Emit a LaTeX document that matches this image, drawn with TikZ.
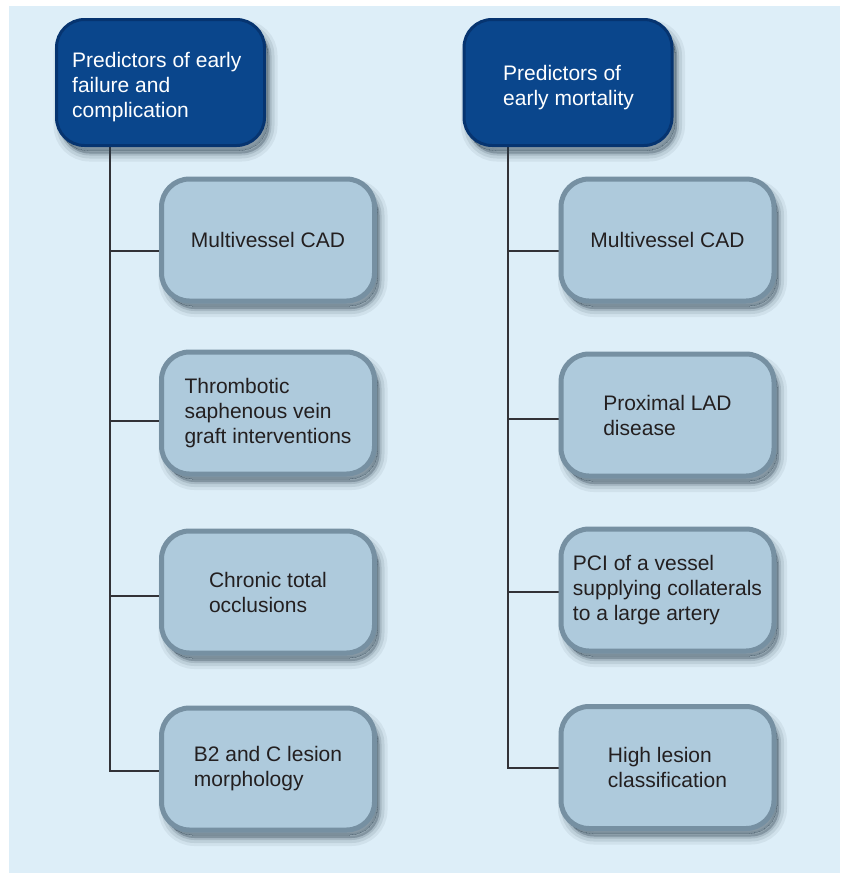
\documentclass[tikz,border=0pt]{standalone}
\usepackage{fontspec}
\setmainfont{Liberation Sans}
\pgfdeclarelayer{background}
\pgfsetlayers{background,main}
\definecolor{panel}{RGB}{221,238,248}
\definecolor{topfill}{RGB}{10,70,140}
\definecolor{topedge}{RGB}{6,52,112}
\definecolor{cfill}{RGB}{174,202,220}
\definecolor{cedge}{RGB}{118,144,162}
\definecolor{ctext}{RGB}{35,31,32}
\definecolor{conncol}{RGB}{50,50,55}
\definecolor{shcol}{RGB}{40,60,75}
\begin{document}
\begin{tikzpicture}[x=1pt,y=-1pt,
  boxfont/.style={font=\fontsize{21}{25}\selectfont},
  softshadow/.style={
    preaction={draw=shcol, fill=shcol, draw opacity=0.07, fill opacity=0.07, line width=16pt,
      transform canvas={shift={(5pt,-8pt)}}},
    preaction={draw=shcol, fill=shcol, draw opacity=0.10, fill opacity=0.10, line width=10pt,
      transform canvas={shift={(5pt,-8pt)}}},
    preaction={draw=shcol, fill=shcol, draw opacity=0.15, fill opacity=0.15, line width=4pt,
      transform canvas={shift={(5pt,-8pt)}}},
    preaction={draw=shcol, fill=shcol, draw opacity=0.2, fill opacity=0.2, line width=0pt,
      transform canvas={shift={(3pt,-5pt)}}}},
  topbox/.style={softshadow, rounded corners=28pt, fill=topfill, draw=topedge, line width=3pt,
    minimum width=208pt, minimum height=126pt, inner sep=0pt},
  toptext/.style={boxfont, text=white, align=left, inner sep=0pt, anchor=west},
  childbox/.style={boxfont, softshadow, rounded corners=28pt, fill=cfill, draw=cedge, line width=5pt,
    minimum width=213pt, minimum height=122pt, text=ctext, align=left, inner sep=0pt},
  conn/.style={draw=conncol, line width=1.2pt}]
\useasboundingbox (0,0) rectangle (848,873);
\begin{pgfonlayer}{background}
  \fill[white] (0,0) rectangle (848,873);
  \fill[panel] (9,6) rectangle (840,873);
\end{pgfonlayer}

% top boxes
\node[topbox] (ltop) at (160.5,82.5) {};
\node[toptext] (ltoptext) at (72,87) {Predictors of early\\failure and\\complication};
\node[topbox] (rtop) at (568,82.5) {};
\node[toptext] (rtoptext) at (503,88) {Predictors of\\early mortality};

% left column
\node[childbox] (l1) at (268,240) {Multivessel CAD};
\node[childbox] (l2) at (268,413) {Thrombotic\\saphenous vein\\graft interventions};
\node[childbox] (l3) at (268,592) {Chronic total\\occlusions};
\node[childbox] (l4) at (268,769) {B2 and C lesion\\morphology};

% right column
\node[childbox] (r1) at (667.5,240) {Multivessel CAD};
\node[childbox] (r2) at (667.5,415) {Proximal LAD\\disease};
\node[childbox] (r3) at (667.5,590) {PCI of a vessel\\supplying collaterals\\to a large artery};
\node[childbox] (r4) at (667.5,767.5) {High lesion\\classification};

% junction points
\coordinate (lj1) at (110,251);
\coordinate (lj2) at (110,421);
\coordinate (lj3) at (110,596);
\coordinate (lj4) at (110,771);
\coordinate (rj1) at (508,251);
\coordinate (rj2) at (508,419);
\coordinate (rj3) at (508,592);
\coordinate (rj4) at (508,768);

\begin{pgfonlayer}{background}
  \draw[conn] (lj1 |- ltop.south) -- (lj4) -- (lj4 -| l4.west);
  \draw[conn] (lj1) -- (lj1 -| l1.west);
  \draw[conn] (lj2) -- (lj2 -| l2.west);
  \draw[conn] (lj3) -- (lj3 -| l3.west);
  \draw[conn] (rj1 |- rtop.south) -- (rj4) -- (rj4 -| r4.west);
  \draw[conn] (rj1) -- (rj1 -| r1.west);
  \draw[conn] (rj2) -- (rj2 -| r2.west);
  \draw[conn] (rj3) -- (rj3 -| r3.west);
\end{pgfonlayer}
\end{tikzpicture}
\end{document}
